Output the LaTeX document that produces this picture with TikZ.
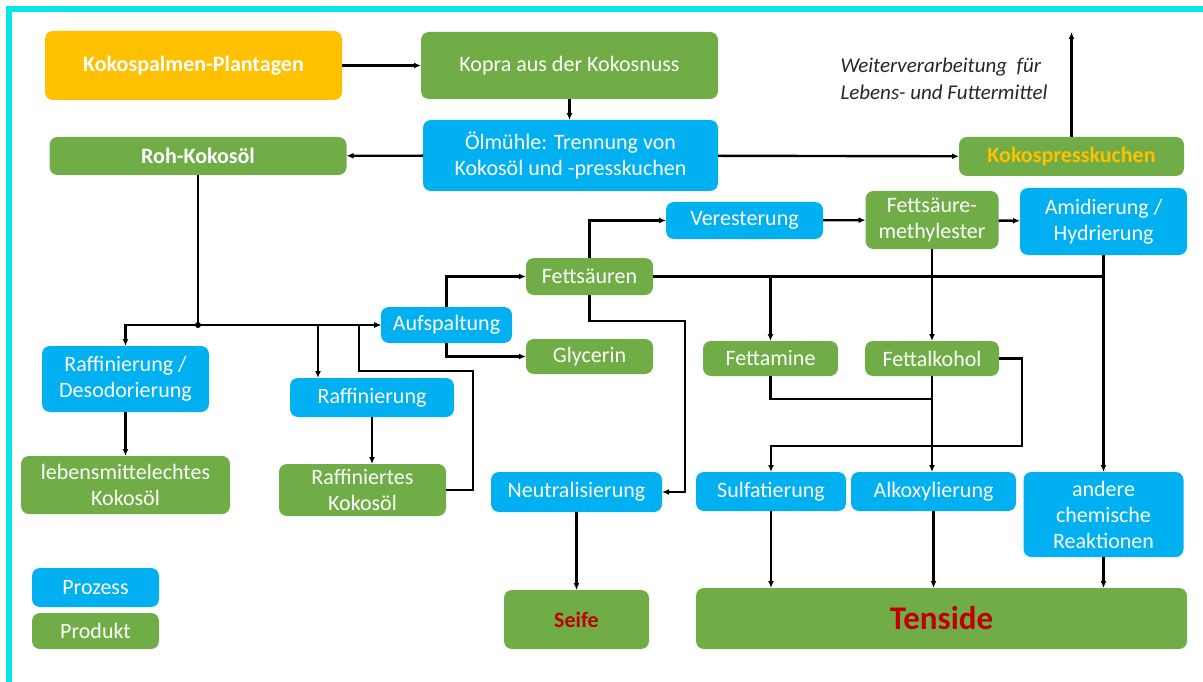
\documentclass[tikz,border=0pt]{standalone}
\usepackage{fontspec}
\setmainfont{Carlito}
\usetikzlibrary{arrows.meta}
\definecolor{prozblau}{RGB}{0,176,240}
\definecolor{prodgruen}{RGB}{112,173,71}
\definecolor{orangegelb}{RGB}{255,192,0}
\definecolor{dunkelrot}{RGB}{192,0,0}
\definecolor{rahmen}{RGB}{8,230,230}
\newcommand{\schrift}{\fontsize{22}{26}\selectfont}

\begin{document}
\begin{tikzpicture}[x=1pt,y=-1pt,line width=2.4pt,>={Latex[length=7pt,width=6pt]},
	box/.style={rounded corners=8pt,text=white,inner sep=0pt,outer sep=0pt,align=center,font=\schrift},
	fett/.style={font=\bfseries\schrift},
	proz/.style={box,fill=prozblau},
	prod/.style={box,fill=prodgruen}]
\useasboundingbox (0,0) rectangle (1203,682);
\fill[rahmen] (6,6) rectangle (1203,12);
\fill[rahmen] (6,6) rectangle (11.5,682);

% Rohstoff und Oelmuehle
\node[box,fill=orangegelb,fett,minimum width=297pt,minimum height=69pt] (plant) at (193.5,65.5) {Kokospalmen-Plantagen};
\node[prod,minimum width=297pt,minimum height=67pt] (kopra) at (569.5,65.5) {Kopra aus der Kokosnuss};
\node[proz,minimum width=295pt,minimum height=71pt] (oel) at (570.5,155.5) {Ölmühle: Trennung von\\Kokosöl und -presskuchen};
\node[prod,fett,minimum width=297pt,minimum height=38pt] (roh) at (198,156) {Roh-Kokosöl};
\node[prod,fett,text=orangegelb,minimum width=225pt,minimum height=39pt] (kuchen) at (1071.5,156.5) {Kokospresskuchen};
\node[anchor=west,align=left,text=black!85,font=\itshape\fontsize{21}{27}\selectfont] (weiter) at (836,79) {Weiterverarbeitung~ für\\Lebens- und Futtermittel};
\coordinate (oben) at (1071.5,32);

% Raffination
\node[proz,minimum width=167pt,minimum height=66pt] (raffdes) at (125.5,379) {Raffinierung /\\Desodorierung};
\node[prod,minimum width=209pt,minimum height=58pt] (lebens) at (125.5,485) {lebensmittelechtes\\Kokosöl};
\node[proz,minimum width=164pt,minimum height=39pt] (raff) at (372,397.5) {Raffinierung};
\node[prod,minimum width=167pt,minimum height=52pt] (raffkok) at (362.5,490) {Raffiniertes\\Kokosöl};

% Spaltung
\node[proz,minimum width=131pt,minimum height=36pt] (aufsp) at (446.5,325) {Aufspaltung};
\node[prod,minimum width=127pt,minimum height=37pt] (fetts) at (589.5,276.5) {Fettsäuren};
\node[prod,minimum width=127pt,minimum height=35pt] (glyc) at (589.5,356.5) {Glycerin};
\node[proz,minimum width=171pt,minimum height=40pt] (neutr) at (576.5,492) {Neutralisierung};
\node[prod,fett,text=dunkelrot,minimum width=145pt,minimum height=59pt] (seife) at (576.5,619.5) {Seife};

% Tenside
\node[proz,minimum width=157pt,minimum height=37pt] (vest) at (744.5,220.5) {Veresterung};
\node[prod,minimum width=133pt,minimum height=58pt] (fsme) at (932,220) {Fettsäure-\\methylester};
\node[proz,minimum width=167pt,minimum height=67pt] (amid) at (1103.5,221.5) {Amidierung /\\Hydrierung};
\node[prod,minimum width=135pt,minimum height=35pt] (famin) at (770.5,358.5) {Fettamine};
\node[prod,minimum width=134pt,minimum height=35pt] (falk) at (932,358.5) {Fettalkohol};
\node[proz,minimum width=150pt,minimum height=39pt] (sulf) at (771,491.5) {Sulfatierung};
\node[proz,minimum width=165pt,minimum height=39pt] (alkox) at (933.5,491.5) {Alkoxylierung};
\node[proz,minimum width=160pt,minimum height=85pt] (andere) at (1103.5,514.5) {andere\\chemische\\Reaktionen};
\node[prod,fett,text=dunkelrot,font=\bfseries\fontsize{33}{38}\selectfont,minimum width=491pt,minimum height=61pt] (tens) at (941.5,618.5) {Tenside};

% Legende
\node[proz,minimum width=127pt,minimum height=39pt] (lgproz) at (95.5,587.5) {Prozess};
\node[prod,minimum width=127pt,minimum height=36pt] (lgprod) at (95.5,631) {Produkt};

% Hilfspunkte
\coordinate (j1) at (198,325);
\coordinate (j2) at (318,325);
\coordinate (k1) at (473,371);
\coordinate (k2) at (359,325);
\coordinate (n1) at (685,321);
\coordinate (f1) at (932,399);
\coordinate (f2) at (1022,446);

% Verbindungen
\draw[->] (plant) -- (kopra);
\draw[->] (kopra.south) -- (kopra.south |- oel.north);
\draw[->] (oel) -- (roh);
\draw[->] (oel) -- (kuchen);
\draw[->] (kuchen.north) -- (oben);
\draw (roh.south) -- (j1);
\fill (j1) circle (3pt);
\draw[->] (j1) -| (raffdes.north);
\draw[->] (j1) -- (aufsp.west);
\draw[->] (j2) -- (j2 |- raff.north);
\draw[->] (raffdes) -- (lebens);
\draw[->] (raff.south) -- (raff.south |- raffkok.north);
\draw[->] (raffkok.east) -| (k1) -| (k2) -- (aufsp.west);
\draw[->] (aufsp.north) |- (fetts.west);
\draw[->] (aufsp.south) |- (glyc.west);
\draw[->] (fetts.north) |- (vest.west);
\draw[->] (fetts.south) |- (n1) |- (neutr.east);
\draw[->] (neutr) -- (seife);
\draw[->] (vest) -- (fsme);
\draw[->] (fsme) -- (amid);
\draw (fetts.east) -- (fetts.east -| amid.south);
\draw[->] (fetts.east -| famin.north) -- (famin.north);
\draw[->] (amid.south) -- (andere.north);
\draw[->] (fsme.south) -- (falk.north);
\draw (famin.south) |- (f1);
\draw[->] (falk.south) -- (falk.south |- alkox.north);
\draw[->] (falk.east) -| (f2) -| (sulf.north);
\foreach \p in {sulf,alkox,andere}
	\draw[->] (\p.south) -- (\p.south |- tens.north);
\end{tikzpicture}
\end{document}
